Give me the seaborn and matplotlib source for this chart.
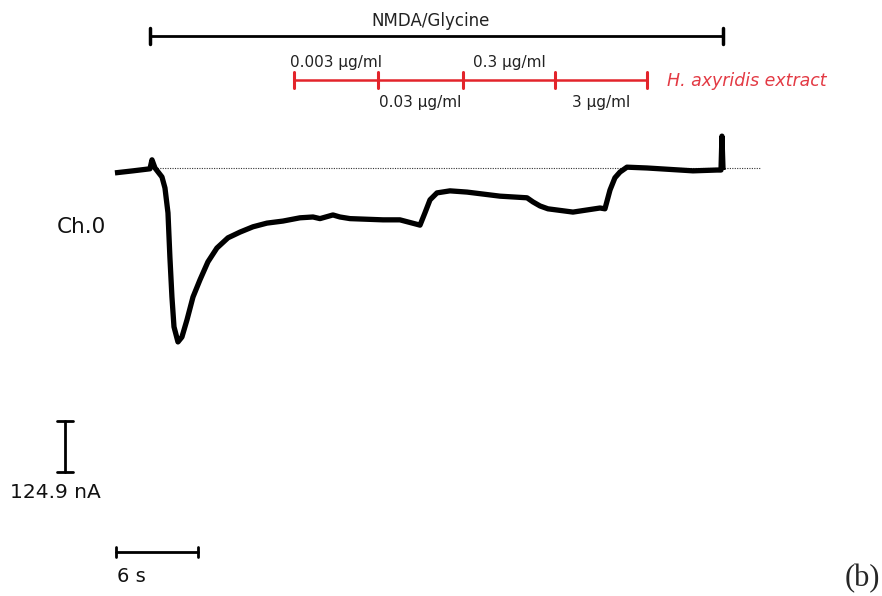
import matplotlib
matplotlib.use("Agg")
import matplotlib.pyplot as plt
import matplotlib.transforms as mtransforms
import seaborn as sns
import pandas as pd

# ---- data (seconds, nA; baseline = 0) ----
time_s = [0.0, 1.32, 2.56, 2.71, 2.93, 3.44, 3.66, 3.88, 4.02, 4.17, 4.32, 4.61,
          4.90, 5.27, 5.71, 6.22, 6.80, 7.46, 8.27, 9.15, 10.10, 11.12, 12.29,
          13.54, 14.49, 15.00, 15.95, 16.46, 17.20, 19.61, 20.85, 22.10, 22.32,
          22.68, 23.05, 23.56, 24.51, 25.76, 28.17, 30.15, 30.58, 31.10, 31.68,
          33.51, 35.49, 35.85, 36.22, 36.58, 36.95, 37.46, 38.93, 42.29, 44.05,
          44.34, 44.41, 44.49]
current_nA = [-12, -7, -2, 20, 0, -22, -49, -110, -218, -316, -389, -426,
              -414, -372, -316, -274, -230, -196, -171, -157, -144, -135, -130,
              -122, -120, -124, -115, -120, -124, -127, -127, -138, -140,
              -110, -78, -61, -56, -59, -69, -73, -83, -93, -100,
              -108, -98, -100, -54, -24, -10, 2, 0, -7, -5,
              -5, 78, -5]

nmda_on, nmda_off = 2.56, 44.49
extract_edges = [13.10, 19.24, 25.46, 32.19, 38.93]
extract_labels = ["0.003 µg/ml", "0.03 µg/ml", "0.3 µg/ml", "3 µg/ml"]
extract_name = "H. axyridis extract"
drug_name = "NMDA/Glycine"
channel_label = "Ch.0"
scale_nA = 124.9
scale_s = 6
panel_label = "(b)"

df = pd.DataFrame({"t": time_s, "I": current_nA})

sns.set_style("white")
plt.rcParams['font.family'] = ['DejaVu Sans']

fig = plt.figure(figsize=(8.82, 5.96), dpi=100)
ax = fig.add_axes([0, 0, 1, 1])
# pixel layout -> data: 13.667 px per s, 2.449 nA per px
ax.set_xlim(-8.41, 56.12)
ax.set_ylim(-1048.2, 411.4)
ax.axis("off")

red = "#e3242b"
txt = "#222222"
blend = mtransforms.blended_transform_factory(ax.transData, ax.transAxes)

# baseline dotted
ax.plot([nmda_on, 47.3], [0, 0], color="#333333", lw=0.8, ls=(0, (1, 1.2)))

# trace
sns.lineplot(data=df, x="t", y="I", sort=False, estimator=None, ax=ax,
             color="black", lw=3.8, solid_joinstyle="round", solid_capstyle="butt")
ax.set_xlabel("")
ax.set_ylabel("")

# NMDA bar
y_n = 0.940
ax.plot([nmda_on, nmda_off], [y_n, y_n], color="black", lw=2.0, transform=blend)
for xv in (nmda_on, nmda_off):
    ax.plot([xv, xv], [y_n - 0.013, y_n + 0.013], color="black", lw=2.5, transform=blend)
ax.text((nmda_on + nmda_off) / 2 - 0.4, 0.956, drug_name, ha="center", va="baseline",
        fontsize=12, color=txt, transform=blend)

# extract bar
y_e = 0.866
ax.plot([extract_edges[0], extract_edges[-1]], [y_e, y_e], color=red, lw=1.8, transform=blend)
for xv in extract_edges:
    ax.plot([xv, xv], [y_e - 0.013, y_e + 0.013], color=red, lw=2.2, transform=blend)
for i, lab in enumerate(extract_labels):
    xc = (extract_edges[i] + extract_edges[i + 1]) / 2
    yy = 0.888 if i % 2 == 0 else 0.821
    ax.text(xc, yy, lab, ha="center", va="baseline", fontsize=11, color=txt,
            transform=blend)
ax.text(40.39, 0.856, extract_name, ha="left", va="baseline", fontsize=12.5,
        color="#e33a44", style="italic", transform=blend)

# channel label
ax.text(57 / 882, 0.609, channel_label, ha="left", va="baseline",
        fontsize=15.5, color="#111111", transform=ax.transAxes)

# vertical scale bar
xs = -3.66
y_top = -619.5
ax.plot([xs, xs], [y_top, y_top - scale_nA], color="black", lw=2.0)
for yv in (y_top, y_top - scale_nA):
    ax.plot([xs - 0.6, xs + 0.6], [yv, yv], color="black", lw=2.0)
ax.text(10 / 882, 0.164, f"{scale_nA} nA", ha="left", va="baseline",
        fontsize=14.5, color="#111111", transform=ax.transAxes)

# horizontal scale bar
t0 = 0.07
y_h = -940.4
ax.plot([t0, t0 + scale_s], [y_h, y_h], color="black", lw=2.0)
for xv in (t0, t0 + scale_s):
    ax.plot([xv, xv], [y_h - 13, y_h + 13], color="black", lw=2.0)
ax.text(117 / 882, 0.0235, f"{scale_s} s", ha="left", va="baseline",
        fontsize=14, color="#111111", transform=ax.transAxes)

# panel label
ax.text(880 / 882, 0.0168, panel_label, ha="right", va="baseline",
        fontsize=22, family=["Liberation Serif", "DejaVu Serif"], transform=ax.transAxes)

fig.savefig("out.png", dpi=100)
